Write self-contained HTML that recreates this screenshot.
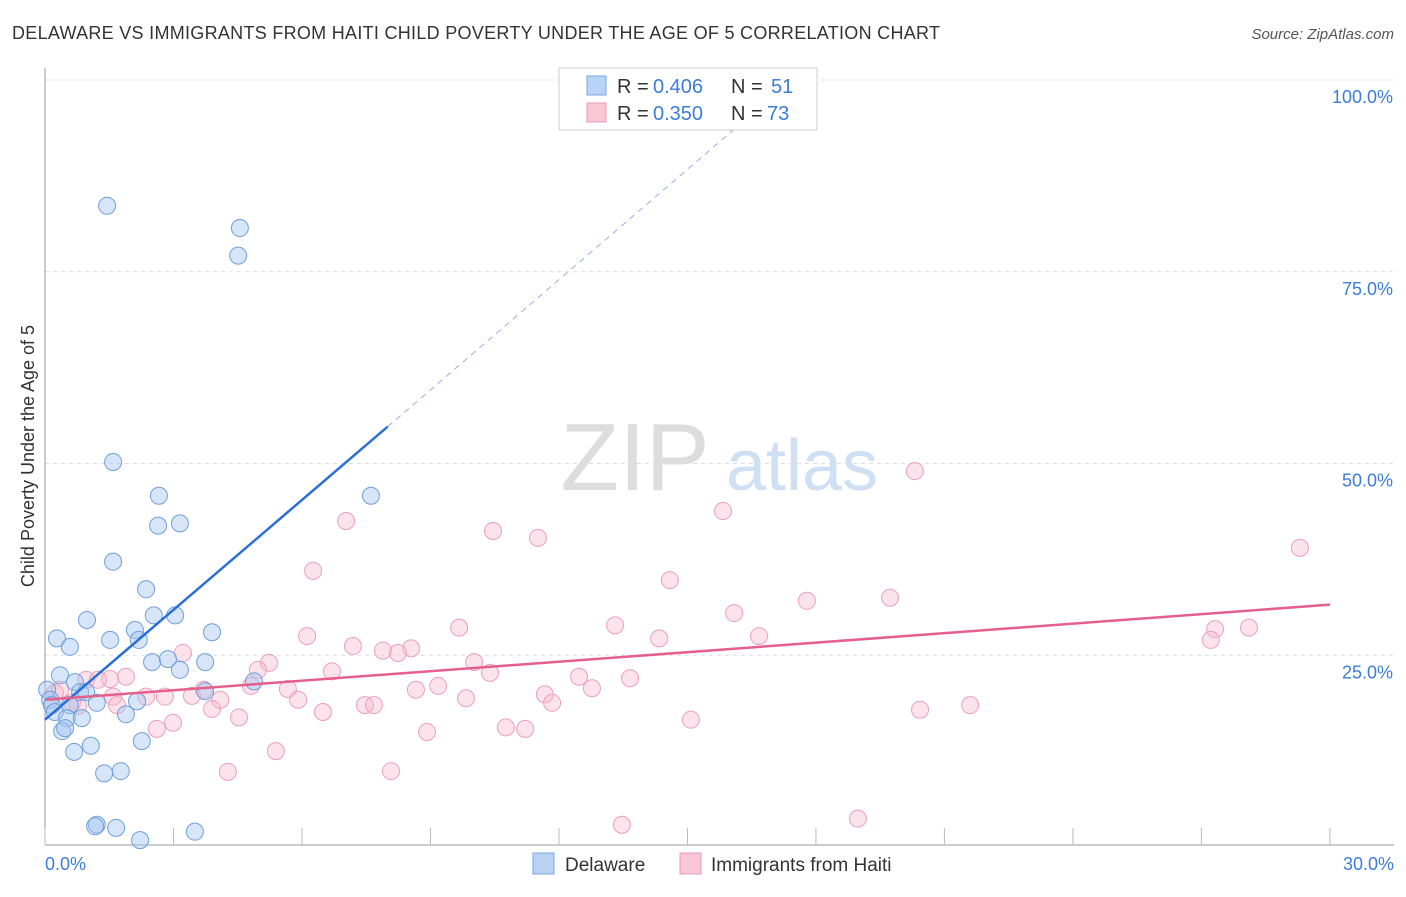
<!DOCTYPE html>
<html><head><meta charset="utf-8"><style>
body{margin:0;background:#fff;font-family:"Liberation Sans",sans-serif;}
svg text{font-family:"Liberation Sans",sans-serif;}
</style></head><body>
<svg id="chart" width="1406" height="892">
<text x="12" y="39" font-size="18" fill="#333" textLength="928">DELAWARE VS IMMIGRANTS FROM HAITI CHILD POVERTY UNDER THE AGE OF 5 CORRELATION CHART</text>
<text x="1394" y="39" font-size="15" fill="#555" text-anchor="end" font-style="italic">Source: ZipAtlas.com</text>
<text x="34" y="456" font-size="18" fill="#333" text-anchor="middle" transform="rotate(-90 34 456)">Child Poverty Under the Age of 5</text>
<g><text x="635" y="490" font-size="96" fill="#ddd" font-family="Liberation Serif" text-anchor="middle">ZIP</text><text x="802" y="490" font-size="72" fill="#cfe0f4" text-anchor="middle">atlas</text></g>
<g id="grid"></g><g id="marks"></g>
<g>
<rect x="559" y="68" width="258" height="62" fill="#fff" stroke="#ccc"/>
<rect x="587" y="76" width="19" height="19" fill="#b8d3f5" stroke="#7aa7e0"/>
<text x="617" y="93" font-size="20" fill="#333">R =</text>
<text x="653" y="93" font-size="20" fill="#3b7dd8">0.406</text>
<text x="731" y="93" font-size="20" fill="#333">N =</text>
<text x="771" y="93" font-size="20" fill="#3b7dd8">51</text>
<rect x="587" y="103" width="19" height="19" fill="#f9c6d6" stroke="#e89ab4"/>
<text x="617" y="120" font-size="20" fill="#333">R =</text>
<text x="653" y="120" font-size="20" fill="#3b7dd8">0.350</text>
<text x="731" y="120" font-size="20" fill="#333">N =</text>
<text x="767" y="120" font-size="20" fill="#3b7dd8">73</text>
</g>
<g>
<rect x="533" y="853" width="21" height="21" fill="#b8d3f5" stroke="#7aa7e0"/>
<text x="565" y="871" font-size="19" fill="#333">Delaware</text>
<rect x="680" y="853" width="21" height="21" fill="#f9c6d6" stroke="#e89ab4"/>
<text x="711" y="871" font-size="19" fill="#333">Immigrants from Haiti</text>
</g>
</svg>
<script>
const blueX=[1.45,4.55,4.51,1.59,2.66,7.61,2.64,3.15,1.59,2.36,0.98,2.54,3.04,0.28,1.52,2.10,2.19,3.90,0.58,0.35,2.50,2.87,3.74,3.15,0.70,0.82,0.96,0.05,0.12,0.16,0.58,1.21,2.15,4.88,3.74,0.23,0.51,0.86,1.89,0.40,0.47,1.07,0.68,2.26,1.38,1.77,1.21,1.17,1.66,2.22,3.50];
const blueY=[83.6,80.7,77.1,50.2,45.8,45.8,41.9,42.2,37.2,33.6,29.6,30.2,30.2,27.2,27.0,28.3,27.0,28.0,26.1,22.4,24.1,24.5,24.1,23.1,21.5,20.2,20.2,20.5,19.2,18.5,18.5,18.8,19.0,21.6,20.3,17.6,16.8,16.8,17.3,15.1,15.5,13.2,12.4,13.8,9.6,9.9,2.9,2.7,2.5,0.9,2.0];
const pinkX=[20.31,7.03,10.46,11.51,15.83,29.30,6.26,14.59,17.79,19.73,16.09,13.31,27.32,28.11,27.22,9.67,6.12,14.34,16.67,7.19,7.89,8.55,8.24,10.02,3.22,5.23,4.97,6.70,10.39,12.47,13.66,9.18,12.77,8.66,11.67,5.67,3.71,4.81,9.83,5.91,4.09,3.43,2.80,2.36,1.59,0.96,1.24,1.89,1.52,0.35,0.23,0.63,1.68,3.90,6.49,7.47,7.68,11.84,21.60,20.43,4.53,2.99,2.61,10.76,11.21,8.92,15.08,5.39,4.27,8.08,13.47,18.98,0.77];
const pinkY=[49.0,42.5,41.2,40.3,43.8,39.0,36.0,34.8,32.1,32.5,30.5,28.9,28.4,28.6,27.0,28.6,27.5,27.2,27.5,26.2,25.6,25.9,25.3,24.1,25.3,24.0,23.1,22.9,22.7,22.2,22.0,21.0,20.7,20.5,19.9,20.6,20.5,21.0,19.4,19.2,19.2,19.7,19.6,19.6,19.6,21.8,21.8,22.2,21.9,20.5,20.1,18.8,18.5,18.0,17.6,18.5,18.5,18.8,18.5,17.9,16.9,16.2,15.4,15.6,15.4,15.0,16.6,12.5,9.8,9.9,2.9,3.7,18.4];
const yTicks=[25,50,75,100];
const yTickLabels=["25.0%","50.0%","75.0%","100.0%"];
const blueTrend=[[0,16.6],[8.0,54.8],[16.2,94.1]];
const pinkTrend=[[0,19.2],[30,31.6]];

const NS="http://www.w3.org/2000/svg";
const sx=v=>45+v*42.83, sy=v=>847-v*7.67;
function mk(t,a,p){const e=document.createElementNS(NS,t);for(const k in a)e.setAttribute(k,a[k]);p.appendChild(e);return e;}
const grid=document.getElementById('grid'), marks=document.getElementById('marks');
yTicks.forEach((t,i)=>{
 const l=mk('line',{x1:45,x2:1394,y1:sy(t),y2:sy(t),stroke:'#ddd','stroke-dasharray':'4 4'},grid);
 
 
 const tx=mk('text',{x:1393,y:sy(t)+23,'font-size':18,fill:'#3b7dd8','text-anchor':'end'},grid);
 tx.textContent=yTickLabels[i];
 
 
});
const ax=mk('line',{x1:45,x2:45,y1:68,y2:845,stroke:'#999'},grid);


const bx=mk('line',{x1:45,x2:1394,y1:845,y2:845,stroke:'#999'},grid);


for(let i=0;i<=10;i++){const t=mk('line',{x1:sx(i*3),x2:sx(i*3),y1:828,y2:845,stroke:'#bbb'},grid);
 
 }
[[0,'0.0%','start',45],[30,'30.0%','end',1394]].forEach(d=>{const t=mk('text',{x:d[3],y:870,'font-size':18,fill:'#3b7dd8','text-anchor':d[2]},grid);t.textContent=d[1];
 
 });
pinkX.forEach((x,i)=>{const c=mk('circle',{cx:sx(x),cy:sy(pinkY[i]),r:8.5,fill:'rgba(248,185,205,0.4)',stroke:'#eba0b9','stroke-width':1},marks);
 
 });
blueX.forEach((x,i)=>{const c=mk('circle',{cx:sx(x),cy:sy(blueY[i]),r:8.5,fill:'rgba(165,198,240,0.45)',stroke:'#6f9fdc','stroke-width':1},marks);
 
 });
const b1=mk('line',{x1:sx(blueTrend[0][0]),y1:sy(blueTrend[0][1]),x2:sx(blueTrend[1][0]),y2:sy(blueTrend[1][1]),stroke:'#2b6fd6','stroke-width':2.5},marks);


const b2=mk('line',{x1:sx(blueTrend[1][0]),y1:sy(blueTrend[1][1]),x2:sx(blueTrend[2][0]),y2:sy(blueTrend[2][1]),stroke:'#8fb3e3','stroke-width':1,'stroke-dasharray':'6 5'},marks);


const p1=mk('line',{x1:sx(pinkTrend[0][0]),y1:sy(pinkTrend[0][1]),x2:sx(pinkTrend[1][0]),y2:sy(pinkTrend[1][1]),stroke:'#e4608a','stroke-width':2.5},marks);


</script>
</body></html>
